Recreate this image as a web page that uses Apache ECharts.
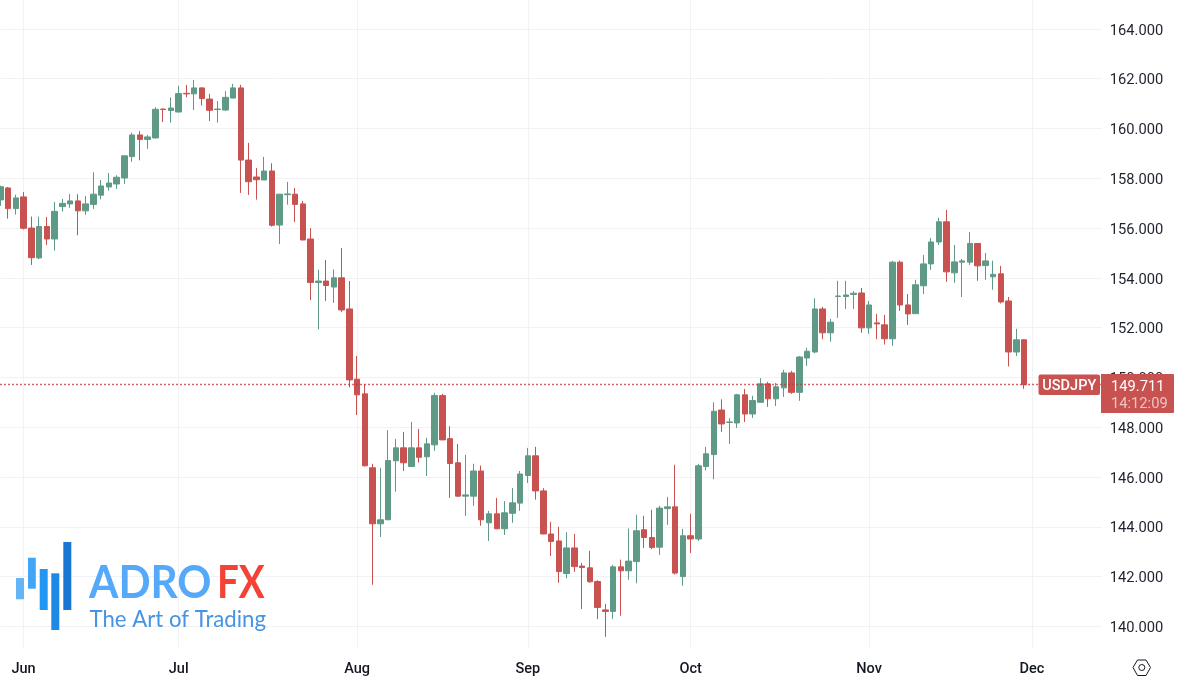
<!DOCTYPE html>
<html>
<head>
<meta charset="utf-8">
<style>html,body{margin:0;padding:0;background:#fff}#c{width:1180px;height:686px}</style>
<script src="https://cdn.jsdelivr.net/npm/echarts@6/dist/echarts.min.js"></script>
</head>
<body>
<div id="c"></div>
<script>
const dates = ['May 29','May 30','May 31',
'Jun 3','Jun 4','Jun 5','Jun 6','Jun 7','Jun 10','Jun 11','Jun 12','Jun 13','Jun 14','Jun 17','Jun 18','Jun 19','Jun 20','Jun 21','Jun 24','Jun 25','Jun 26','Jun 27','Jun 28',
'Jul 1','Jul 2','Jul 3','Jul 4','Jul 5','Jul 8','Jul 9','Jul 10','Jul 11','Jul 12','Jul 15','Jul 16','Jul 17','Jul 18','Jul 19','Jul 22','Jul 23','Jul 24','Jul 25','Jul 26','Jul 29','Jul 30','Jul 31',
'Aug 1','Aug 2','Aug 5','Aug 6','Aug 7','Aug 8','Aug 9','Aug 12','Aug 13','Aug 14','Aug 15','Aug 16','Aug 19','Aug 20','Aug 21','Aug 22','Aug 23','Aug 26','Aug 27','Aug 28','Aug 29','Aug 30',
'Sep 2','Sep 3','Sep 4','Sep 5','Sep 6','Sep 9','Sep 10','Sep 11','Sep 12','Sep 13','Sep 16','Sep 17','Sep 18','Sep 19','Sep 20','Sep 23','Sep 24','Sep 25','Sep 26','Sep 27','Sep 30',
'Oct 1','Oct 2','Oct 3','Oct 4','Oct 7','Oct 8','Oct 9','Oct 10','Oct 11','Oct 14','Oct 15','Oct 16','Oct 17','Oct 18','Oct 21','Oct 22','Oct 23','Oct 24','Oct 25','Oct 28','Oct 29','Oct 30','Oct 31',
'Nov 1','Nov 4','Nov 5','Nov 6','Nov 7','Nov 8','Nov 11','Nov 12','Nov 13','Nov 14','Nov 15','Nov 18','Nov 19','Nov 20','Nov 21','Nov 22','Nov 25','Nov 26','Nov 27','Nov 28','Nov 29',
'Dec 2','Dec 3','Dec 4','Dec 5','Dec 6','Dec 9','Dec 10','Dec 11','Dec 12','Dec 13'];
const monthStarts = ['Jun 3','Jul 1','Aug 1','Sep 2','Oct 1','Nov 1','Dec 2'];
const priceTicks = [140,142,144,146,148,150,152,154,156,158,160,162,164];
const opens = [157.13,157.61,156.78,157.25,156.00,154.80,156.06,155.56,156.86,156.97,157.09,156.69,156.95,157.32,157.65,157.77,158.01,158.87,159.74,159.56,159.62,160.78,160.72,
160.66,161.41,161.39,161.63,161.18,160.76,160.74,161.22,161.63,158.73,158.05,157.93,158.29,156.12,157.34,157.36,156.97,155.56,153.81,153.87,153.63,154.00,152.75,
149.93,149.34,146.37,144.12,144.28,146.65,147.17,146.42,147.17,146.81,147.29,149.27,147.54,146.57,145.23,145.23,146.24,144.16,144.52,143.92,144.54,144.95,
146.06,146.85,145.44,143.71,143.43,142.12,143.15,142.42,142.35,141.80,140.66,140.60,142.39,142.23,142.60,143.88,143.57,143.18,144.73,144.80,142.00,
143.64,143.51,146.42,146.90,148.69,148.19,148.17,149.30,148.53,149.00,149.74,149.14,149.58,150.18,149.40,150.78,151.02,152.75,151.79,153.25,153.25,153.33,153.39,
151.99,152.19,152.11,151.55,154.63,152.91,152.56,153.68,154.56,155.44,156.25,154.20,154.63,154.63,155.38,154.49,154.04,154.16,153.07,151.02,151.51];
const closes = [157.66,156.78,157.21,155.99,154.81,156.06,155.56,156.67,156.99,157.09,156.69,156.97,157.36,157.69,157.81,158.04,158.90,159.74,159.56,159.66,160.77,160.76,160.82,
161.40,161.39,161.63,161.20,160.73,160.78,161.25,161.63,158.73,157.86,157.94,158.29,156.11,157.36,157.37,156.95,155.52,153.81,153.87,153.69,154.00,152.71,149.90,
149.30,146.45,144.12,144.28,146.66,147.17,146.57,147.17,146.79,147.33,149.27,147.49,146.54,145.23,145.28,146.24,144.28,144.52,143.92,144.56,144.96,146.12,
146.85,145.44,143.71,143.41,142.20,143.15,142.40,142.36,141.79,140.76,140.60,142.39,142.23,142.62,143.84,143.57,143.17,144.75,144.80,142.14,143.64,
143.51,146.45,146.93,148.64,148.13,148.21,149.30,148.53,149.07,149.74,149.14,149.62,150.18,149.40,150.82,151.05,152.75,151.79,152.22,153.27,153.31,153.38,151.99,
152.91,152.15,151.55,154.63,152.91,152.55,153.72,154.56,155.44,156.25,154.24,154.64,154.68,155.38,154.48,154.68,154.14,153.03,151.02,151.51,149.711];
const lows = [156.89,156.38,156.54,155.94,154.52,154.76,155.32,155.09,156.66,156.81,155.71,156.53,156.77,157.15,157.50,157.57,157.77,158.66,158.72,159.18,159.59,160.26,160.23,
160.65,161.25,160.74,160.92,160.30,160.23,160.70,161.22,157.41,157.33,157.14,157.93,156.06,155.36,156.94,156.24,155.51,153.10,151.93,153.07,152.99,152.62,149.60,
148.49,146.42,141.67,143.59,144.27,145.41,146.24,146.41,146.58,146.04,147.05,147.48,145.16,145.21,144.44,144.84,144.04,143.43,143.90,143.67,144.16,144.64,
145.76,145.09,143.70,142.83,141.75,141.93,142.19,140.70,141.75,140.29,139.58,140.30,140.43,141.87,141.73,143.15,143.10,142.87,144.08,142.08,141.63,
142.95,143.43,146.26,145.91,147.81,147.33,147.97,148.21,148.37,148.99,148.82,148.85,149.22,149.34,149.06,150.46,150.97,151.53,151.43,152.39,152.75,152.75,151.79,
151.75,151.53,151.32,151.27,152.67,152.11,152.55,153.35,154.32,155.32,153.84,153.80,153.23,154.52,153.88,153.92,153.52,152.97,150.44,150.86,149.54];
const highs = [157.70,157.65,157.34,157.45,156.46,156.46,156.45,157.05,157.17,157.37,157.36,157.29,158.24,157.93,158.21,158.12,158.93,159.83,159.90,159.74,160.85,160.79,161.25,
161.71,161.75,161.95,161.65,161.39,161.10,161.50,161.79,161.75,159.42,158.41,158.86,158.60,157.37,157.85,157.61,157.09,155.99,154.32,154.72,154.34,155.20,153.87,
150.86,149.74,146.53,146.37,147.88,147.53,147.81,148.21,147.93,147.57,149.38,149.34,148.04,147.33,146.89,146.53,146.46,144.64,145.16,145.03,145.56,146.24,
147.17,147.21,145.55,144.20,144.00,143.78,143.71,142.55,143.03,141.85,140.90,142.47,142.68,143.93,144.48,144.44,144.68,144.84,145.20,146.49,143.92,
144.52,146.53,147.21,149.00,149.12,148.36,149.34,149.54,149.26,149.97,149.82,149.78,150.30,150.26,150.86,151.19,153.18,152.83,152.35,153.88,153.88,153.47,153.59,
153.07,152.55,152.51,154.68,154.69,153.35,153.92,154.92,155.60,156.41,156.73,155.32,154.76,155.84,155.39,155.00,154.69,154.48,153.23,151.95,151.53];
const symbolName = 'USDJPY';
const lastPrice = 149.711;
const countdown = '14:12:09';

const UP = '#5f9a86', DOWN = '#c85250', INK = '#131722', GRID = '#f1f2f4';
const FONT = 'Roboto, sans-serif';
const candles = opens.map((o, i) => [o, closes[i], lows[i], highs[i]]);
const isMonth = (i, name) => monthStarts.includes(dates[i]);

const chart = echarts.init(document.getElementById('c'), null, {renderer: 'canvas'});
chart.setOption({
  animation: false,
  backgroundColor: '#ffffff',
  grid: {left: 0.3, right: 78.2, top: 0, bottom: 38},
  xAxis: {
    type: 'category', data: dates, boundaryGap: false,
    axisLine: {show: false}, axisTick: {show: false},
    splitLine: {show: true, interval: isMonth, lineStyle: {color: GRID, width: 1}},
    axisLabel: {
      interval: isMonth, margin: 13.5, color: INK, fontFamily: FONT, fontSize: 14.5, fontWeight: 500,
      formatter: v => v.slice(0, 3)
    }
  },
  yAxis: {
    type: 'value', position: 'right', min: 139.13, max: 165.16,
    axisLine: {show: false},
    axisTick: {show: false, customValues: priceTicks},
    splitLine: {show: true, lineStyle: {color: GRID, width: 1}},
    axisLabel: {
      customValues: priceTicks, margin: 8, color: '#1d222d', fontFamily: FONT, fontSize: 14.7,
      verticalAlign: 'top', lineHeight: 4,
      formatter: v => v.toFixed(3)
    }
  },
  series: [{
    type: 'candlestick', data: candles, barWidth: 6, z: 3,
    itemStyle: {color: UP, color0: DOWN, borderColor: UP, borderColor0: DOWN, borderWidth: 1},
    markLine: {
      silent: true, symbol: 'none', animation: false,
      label: {show: false},
      lineStyle: {color: '#c8322f', width: 1.4, type: [1.5, 2.5]},
      data: [{yAxis: lastPrice}]
    }
  }],
  graphic: [
    {type: 'rect', z: 100, shape: {x: 1038.5, y: 374.5, width: 61.5, height: 20.5, r: 2}, style: {fill: DOWN}},
    {type: 'text', z: 101, style: {x: 1069.3, y: 386, text: symbolName, fill: '#fff', font: '500 14.5px ' + FONT, align: 'center', verticalAlign: 'middle'}},
    {type: 'rect', z: 100, shape: {x: 1101, y: 374, width: 73, height: 39, r: [0, 1, 1, 0]}, style: {fill: DOWN}},
    {type: 'text', z: 101, style: {x: 1111, y: 387.6, text: lastPrice.toFixed(3), fill: '#fff', font: '14.7px ' + FONT, align: 'left', verticalAlign: 'middle'}},
    {type: 'text', z: 101, style: {x: 1111, y: 404.2, text: countdown, fill: 'rgba(255,255,255,0.65)', font: '14.7px ' + FONT, align: 'left', verticalAlign: 'middle'}},

    {type: 'rect', z: 100, shape: {x: 16, y: 578, width: 8, height: 21.3}, style: {fill: '#64b5f6'}},
    {type: 'rect', z: 100, shape: {x: 28, y: 557.7, width: 7.8, height: 31}, style: {fill: '#42a5f5'}},
    {type: 'rect', z: 100, shape: {x: 39.7, y: 569, width: 8, height: 41}, style: {fill: '#2196f3'}},
    {type: 'rect', z: 100, shape: {x: 51.3, y: 573.3, width: 8, height: 56.7}, style: {fill: '#1e88e5'}},
    {type: 'rect', z: 100, shape: {x: 63.3, y: 542, width: 8, height: 68}, style: {fill: '#1976d2'}},
    {type: 'text', z: 100, x: 89, y: 583, scaleX: 0.92, style: {x: 0, y: 0, text: 'ADRO', fill: '#55a9f9', font: '700 46px Lato, sans-serif', align: 'left', verticalAlign: 'middle'}},
    {type: 'text', z: 100, x: 217, y: 583, scaleX: 0.84, style: {x: 0, y: 0, text: 'FX', fill: '#f44336', font: '700 46px Lato, sans-serif', align: 'left', verticalAlign: 'middle'}},
    {type: 'text', z: 100, x: 89.5, y: 619, scaleX: 0.925, style: {x: 0, y: 0, text: 'The Art of Trading', fill: '#4694e4', font: '400 24px Lato, sans-serif', align: 'left', verticalAlign: 'middle'}},

    {type: 'polygon', z: 100, shape: {points: [[1133, 667.5], [1137.5, 660], [1146, 660], [1150.5, 667.5], [1146, 675.5], [1137.5, 675.5]]}, style: {fill: 'none', stroke: INK, lineWidth: 1}},
    {type: 'circle', z: 100, shape: {cx: 1141.8, cy: 667.5, r: 3}, style: {fill: 'none', stroke: INK, lineWidth: 1}}
  ]
});
</script>
</body>
</html>
